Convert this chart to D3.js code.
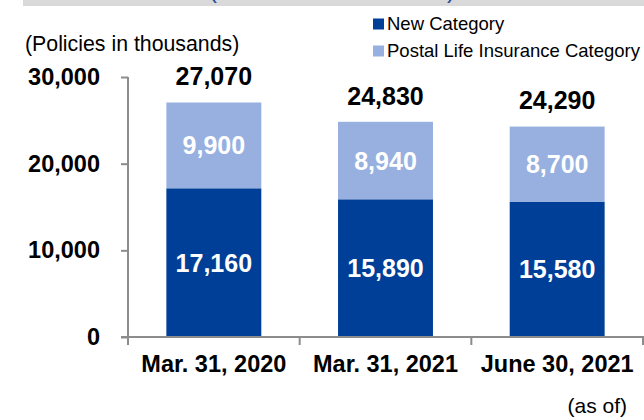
<!DOCTYPE html>
<html>
<head>
<meta charset="utf-8">
<script src="https://cdn.jsdelivr.net/npm/d3@7"></script>
<style>
  html, body { margin: 0; padding: 0; background: #fff; }
  svg { display: block; font-family: "Liberation Sans", Arial, sans-serif; }
</style>
</head>
<body>
<svg id="chart" width="644" height="420"></svg>
<script>
// Policies in force (thousands), by reporting date
const categories = ["Mar. 31, 2020", "Mar. 31, 2021", "June 30, 2021"];
const newCategory = [17160, 15890, 15580];
const postalCategory = [9900, 8940, 8700];
const totals = [27070, 24830, 24290];
const yTicks = [0, 10000, 20000, 30000];
const seriesNames = ["New Category", "Postal Life Insurance Category"];

const colors = { newCat: "#003f98", postal: "#97b0e0", axis: "#8c8c8c", band: "#d9d9d9" };
const fmt = d3.format(",");

const svg = d3.select("#chart");

// Header band with the lower edge of the title's parentheses
svg.append("rect").attr("x", 23).attr("y", 0).attr("width", 621).attr("height", 6).attr("fill", colors.band);
svg.append("text").attr("x", 209).attr("y", -2).attr("font-size", 24).attr("fill", "#1a4a9c").text("(");
svg.append("text").attr("x", 447).attr("y", -2).attr("font-size", 24).attr("fill", "#1a4a9c").text(")");

// Scales
const x = d3.scaleBand().domain(categories).range([128, 643]).paddingInner(0.447).paddingOuter(0.2235);
const y = d3.scaleLinear().domain([0, 30000]).range([337, 77]);

// Stacked data
const stackData = categories.map((c, i) => ({ cat: c, newCat: newCategory[i], postal: postalCategory[i] }));
const stacked = d3.stack().keys(["newCat", "postal"])(stackData);

// Bars
svg.append("g").selectAll("g").data(stacked).join("g")
  .attr("fill", d => colors[d.key])
  .selectAll("rect").data(d => d).join("rect")
  .attr("x", d => x(d.data.cat))
  .attr("width", x.bandwidth())
  .attr("y", d => y(d[1]))
  .attr("height", d => y(d[0]) - y(d[1]));

// Segment value labels
svg.append("g").selectAll("g").data(stacked).join("g")
  .selectAll("text").data(d => d.map(v => ({ v, key: d.key }))).join("text")
  .attr("x", d => x(d.v.data.cat) + x.bandwidth() / 2)
  .attr("y", d => (y(d.v[0]) + y(d.v[1])) / 2 + 9)
  .attr("text-anchor", "middle")
  .attr("font-size", 25).attr("font-weight", "bold").attr("fill", "#fff")
  .text(d => fmt(d.v.data[d.key]));

// Totals above bars
svg.append("g").selectAll("text").data(categories).join("text")
  .attr("x", c => x(c) + x.bandwidth() / 2)
  .attr("y", (c, i) => y(totals[i]) - 17)
  .attr("text-anchor", "middle")
  .attr("font-size", 25).attr("font-weight", "bold").attr("fill", "#000")
  .text((c, i) => fmt(totals[i]));

// Y axis
const yAxis = svg.append("g").attr("transform", "translate(128,0)")
  .call(d3.axisLeft(y).tickValues(yTicks).tickFormat(fmt).tickSize(7).tickPadding(21));
yAxis.select(".domain").attr("stroke", colors.axis).attr("stroke-width", 2).attr("d", "M0,77V345");
yAxis.selectAll(".tick line").attr("stroke", colors.axis).attr("stroke-width", 2);
yAxis.selectAll(".tick text").attr("font-size", 23.5).attr("font-weight", "bold").attr("fill", "#000")
  .attr("font-family", "'Liberation Sans', Arial, sans-serif");

// X axis: baseline with ticks at category boundaries
const bounds = d3.range(categories.length + 1).map(i => x.range()[0] + i * x.step());
const xAxis = svg.append("g");
xAxis.append("line").attr("x1", 121).attr("x2", 644).attr("y1", 337).attr("y2", 337)
  .attr("stroke", colors.axis).attr("stroke-width", 2);
xAxis.selectAll("line.tick").data(bounds).join("line").attr("class", "tick")
  .attr("x1", d => d).attr("x2", d => d).attr("y1", 337).attr("y2", 345)
  .attr("stroke", colors.axis).attr("stroke-width", 2);
xAxis.selectAll("text").data(categories).join("text")
  .attr("x", c => x(c) + x.bandwidth() / 2).attr("y", 372)
  .attr("text-anchor", "middle").attr("font-size", 23.5).attr("font-weight", "bold").attr("fill", "#000")
  .text(c => c);

// Unit and date notes
svg.append("text").attr("x", 25).attr("y", 51).attr("font-size", 21.3).attr("fill", "#000").text("(Policies in thousands)");
svg.append("text").attr("x", 627).attr("y", 413).attr("text-anchor", "end").attr("font-size", 21).attr("fill", "#000").text("(as of)");

// Legend
const legend = svg.append("g").selectAll("g").data(seriesNames).join("g")
  .attr("transform", (d, i) => `translate(373,${18.5 + i * 27})`);
legend.append("rect").attr("width", 11).attr("height", 11)
  .attr("fill", (d, i) => i === 0 ? colors.newCat : colors.postal);
legend.append("text").attr("x", 14).attr("y", 11.5).attr("font-size", 18.5).attr("fill", "#000").text(d => d);
</script>
</body>
</html>
